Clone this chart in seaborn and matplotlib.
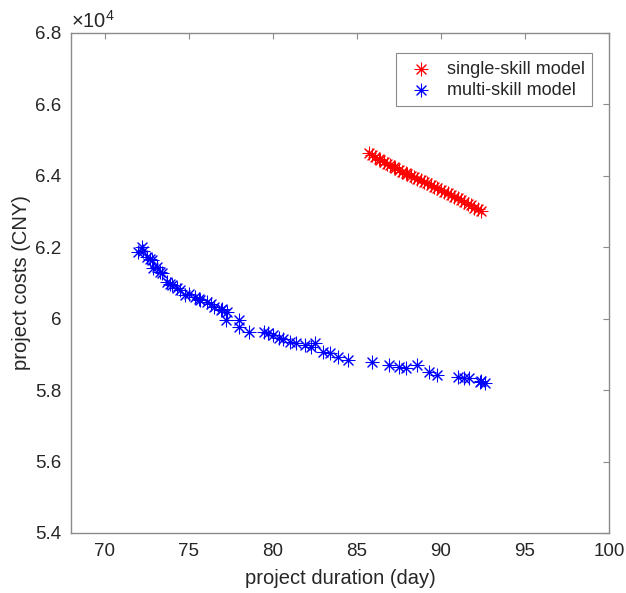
import numpy as np
import pandas as pd
import matplotlib
matplotlib.use("Agg")
import matplotlib.pyplot as plt
from matplotlib.ticker import FuncFormatter, MultipleLocator
import seaborn as sns

# single-skill model: duration (day), cost (x10^4 CNY)
single_duration = [85.7, 85.9, 86.1, 86.3, 86.4, 86.6, 86.8, 87.0, 87.2, 87.3,
                   87.5, 87.7, 87.9, 88.0, 88.2, 88.4, 88.6, 88.8, 89.0, 89.2,
                   89.4, 89.6, 89.8, 90.0, 90.2, 90.4, 90.6, 90.8, 91.0, 91.2,
                   91.4, 91.6, 91.8, 92.0, 92.2, 92.4]
single_cost = [6.464, 6.458, 6.452, 6.447, 6.443, 6.438, 6.433, 6.430, 6.425, 6.421,
               6.417, 6.412, 6.408, 6.404, 6.400, 6.396, 6.391, 6.387, 6.384, 6.380,
               6.375, 6.370, 6.366, 6.361, 6.356, 6.352, 6.347, 6.342, 6.337, 6.332,
               6.327, 6.322, 6.317, 6.311, 6.306, 6.301]

# multi-skill model
multi_duration = [72.2, 72.0, 72.3, 72.5, 72.7, 72.8, 72.9, 73.1, 73.3, 73.4,
                  73.7, 73.9, 74.0, 74.3, 74.5, 74.8, 75.0, 75.4, 75.6, 75.7,
                  76.1, 76.3, 76.5, 76.9, 77.0, 77.3, 77.2, 78.0, 78.0, 78.6,
                  79.5, 79.7, 80.0, 80.4, 80.6, 81.0, 81.4, 81.9, 82.3, 82.5,
                  83.0, 83.4, 83.9, 84.5, 85.9, 86.9, 87.5, 87.9, 88.6, 89.3,
                  89.8, 91.0, 91.4, 91.7, 92.3, 92.6, 92.4]
multi_cost = [6.201, 6.187, 6.190, 6.173, 6.168, 6.164, 6.141, 6.145, 6.131, 6.128,
              6.102, 6.098, 6.094, 6.086, 6.080, 6.066, 6.070, 6.061, 6.056, 6.052,
              6.047, 6.040, 6.033, 6.024, 6.028, 6.019, 5.996, 5.996, 5.977, 5.963,
              5.963, 5.960, 5.954, 5.945, 5.942, 5.935, 5.931, 5.927, 5.922, 5.931,
              5.907, 5.903, 5.894, 5.884, 5.879, 5.870, 5.865, 5.861, 5.870, 5.851,
              5.842, 5.837, 5.835, 5.833, 5.823, 5.819, 5.826]

sns.set_theme(style="white")
plt.rcParams['font.family'] = ['Liberation Sans', 'DejaVu Sans']
plt.rcParams['mathtext.fontset'] = 'custom'
plt.rcParams['mathtext.rm'] = 'Liberation Sans'

TEXT = '#262626'
EDGE = '#8a8a8a'
star = (8, 2, 0)

fig = plt.figure(figsize=(6.26, 5.93), dpi=100)
ax = fig.add_axes([0.1134, 0.1012, 0.8594, 0.8432])

df_single = pd.DataFrame({'duration': single_duration, 'cost': single_cost})
df_multi = pd.DataFrame({'duration': multi_duration, 'cost': multi_cost})

sns.scatterplot(data=df_single, x='duration', y='cost', ax=ax, color='#ff0000',
                marker=star, s=85, linewidth=0.75, label='single-skill model')
sns.scatterplot(data=df_multi, x='duration', y='cost', ax=ax, color='#0000ff',
                marker=star, s=85, linewidth=0.75, label='multi-skill model')

ax.set_xlim(68, 100)
ax.set_ylim(5.4, 6.8)
ax.xaxis.set_major_locator(MultipleLocator(5))
ax.yaxis.set_major_locator(MultipleLocator(0.2))
ax.yaxis.set_major_formatter(FuncFormatter(lambda v, p: f"{v:g}"))

for sp in ax.spines.values():
    sp.set_color(EDGE)
    sp.set_linewidth(1.0)
ax.tick_params(direction='in', length=4, width=0.8, color=EDGE, labelcolor=TEXT,
               labelsize=13.5, top=True, right=True, pad=7)

ax.set_xlabel('project duration (day)', fontsize=14.5, color=TEXT, labelpad=7)
ax.set_ylabel('project costs (CNY)', fontsize=14.5, color=TEXT, labelpad=3)
ax.text(0.0, 1.003, r'$\times10^{4}$', transform=ax.transAxes, fontsize=14.5,
        color=TEXT, ha='left', va='bottom')

leg = ax.legend(loc='upper right', bbox_to_anchor=(0.985, 0.977), fontsize=13,
                frameon=True, fancybox=False, framealpha=1, edgecolor=EDGE,
                borderpad=0.4, handletextpad=0.4, labelspacing=0.25,
                borderaxespad=0.5)
leg.get_frame().set_linewidth(0.8)
for t in leg.get_texts():
    t.set_color(TEXT)

fig.savefig('out.png', dpi=100)
